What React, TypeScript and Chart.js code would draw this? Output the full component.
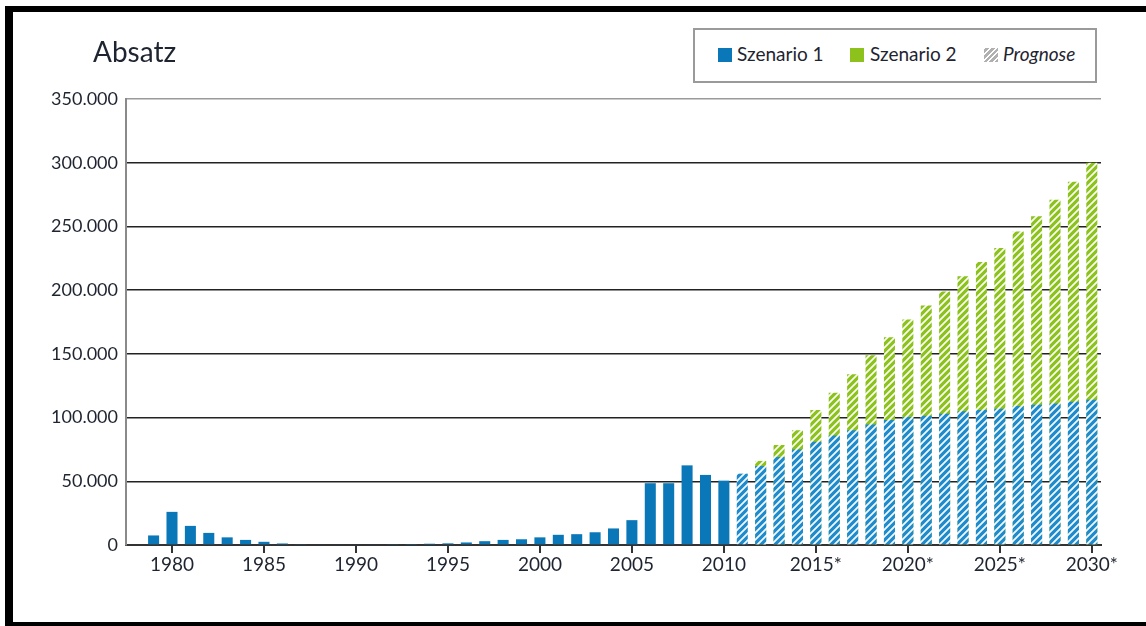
import React, { useEffect, useRef } from 'react';
import { Chart, registerables } from 'chart.js';

Chart.register(...registerables);

const years = [
  1978, 1979, 1980, 1981, 1982, 1983, 1984, 1985, 1986, 1987, 1988, 1989, 1990,
  1991, 1992, 1993, 1994, 1995, 1996, 1997, 1998, 1999, 2000, 2001, 2002, 2003,
  2004, 2005, 2006, 2007, 2008, 2009, 2010, 2011, 2012, 2013, 2014, 2015, 2016,
  2017, 2018, 2019, 2020, 2021, 2022, 2023, 2024, 2025, 2026, 2027, 2028, 2029, 2030,
];

// Szenario 1 (blue)
const szenario1 = [
  null, 7500, 26000, 15000, 9500, 6000, 4000, 2500, 1200, 700, 500, 500, 500,
  600, 700, 800, 1000, 1300, 2000, 3000, 4000, 4500, 6000, 8000, 8500, 10000,
  13000, 19500, 48500, 48500, 62500, 55000, 50500, 56000, 62000, 69000, 75000, 81000, 86000,
  90000, 94500, 98000, 100500, 101500, 103000, 105000, 106000, 107000, 109000, 110000, 111000, 112500, 114000,
];

// Szenario 2 (green, total height)
const szenario2 = [
  null, null, null, null, null, null, null, null, null, null, null, null, null,
  null, null, null, null, null, null, null, null, null, null, null, null, null,
  null, null, null, null, null, null, null, null, 66000, 78500, 90000, 106000, 119500,
  134000, 149000, 163000, 177000, 188000, 199000, 211000, 222000, 233000, 246000, 258000, 271000, 285000, 300000,
];

const prognoseFrom = 2011;
const starredFrom = 2015;
const yMax = 350000;
const yStep = 50000;

const BLUE = '#0a78b8';
const BLUE_HATCH = '#1e8bcc';
const GREEN = '#8cc21b';

function makeHatch(ctx: CanvasRenderingContext2D, color: string) {
  const s = 7;
  const c = document.createElement('canvas');
  c.width = s;
  c.height = s;
  const g = c.getContext('2d')!;
  g.fillStyle = color;
  g.fillRect(0, 0, s, s);
  g.strokeStyle = 'rgba(255,255,255,0.95)';
  g.lineWidth = 1.8;
  g.beginPath();
  g.moveTo(-1, s + 1);
  g.lineTo(s + 1, -1);
  g.moveTo(-1, 1);
  g.lineTo(1, -1);
  g.moveTo(s - 1, s + 1);
  g.lineTo(s + 1, s - 1);
  g.stroke();
  return ctx.createPattern(c, 'repeat');
}

function fmt(v: number) {
  return String(Math.round(v)).replace(/\B(?=(\d{3})+(?!\d))/g, '.');
}

export default function App() {
  const ref = useRef<HTMLCanvasElement | null>(null);

  useEffect(() => {
    const canvas = ref.current!;
    const ctx = canvas.getContext('2d')!;
    const blueHatch = makeHatch(ctx, BLUE_HATCH);
    const greenHatch = makeHatch(ctx, GREEN);

    const chart = new Chart(ctx, {
      type: 'bar',
      data: {
        labels: years.map(String),
        datasets: [
          {
            label: 'Szenario 1',
            data: szenario1 as any,
            backgroundColor: (c: any) => (years[c.dataIndex] >= prognoseFrom ? blueHatch : BLUE),
            borderWidth: 0,
            barPercentage: 0.6,
            categoryPercentage: 1,
          },
          {
            label: 'Szenario 2',
            data: szenario2 as any,
            backgroundColor: (c: any) => (years[c.dataIndex] >= prognoseFrom ? greenHatch : GREEN),
            borderWidth: 0,
            barPercentage: 0.6,
            categoryPercentage: 1,
          },
        ],
      },
      options: {
        animation: false,
        responsive: false,
        maintainAspectRatio: false,
        devicePixelRatio: 1,
        layout: { padding: { top: 99, right: 45, left: 0, bottom: 0 } },
        plugins: { legend: { display: false }, tooltip: { enabled: false } },
        scales: {
          x: {
            stacked: true,
            afterFit: (s: any) => {
              s.height = 81;
            },
            border: { display: true, color: '#333', width: 2 },
            grid: {
              display: true,
              drawOnChartArea: false,
              drawTicks: true,
              tickLength: 8,
              offset: false,
              lineWidth: 2,
              color: (c: any) => {
                const y = years[c.index];
                return y !== undefined && y % 5 === 0 ? '#333' : 'rgba(0,0,0,0)';
              },
            },
            ticks: {
              autoSkip: false,
              maxRotation: 0,
              minRotation: 0,
              padding: 0,
              color: '#1e2430',
              font: { family: "'Lato', sans-serif", size: 19 },
              callback: (_v: any, i: number) => {
                const y = years[i];
                if (y % 5 !== 0) return '';
                return y >= starredFrom ? y + '*' : String(y);
              },
            },
          },
          y: {
            stacked: false,
            min: 0,
            max: yMax,
            afterFit: (s: any) => {
              s.width = 126;
            },
            border: { display: true, color: '#8a8a8a', width: 2 },
            grid: {
              drawTicks: false,
              lineWidth: 1.4,
              color: (c: any) => (c.tick && c.tick.value === yMax ? '#9a9a9a' : '#222'),
            },
            ticks: {
              stepSize: yStep,
              padding: 8,
              color: '#1e2430',
              font: { family: "'Lato', sans-serif", size: 18 },
              callback: (v: any) => fmt(Number(v)),
            },
          },
        },
      },
    });
    return () => chart.destroy();
  }, []);

  const legendText: React.CSSProperties = {
    position: 'absolute',
    top: 12,
    fontFamily: "'Lato', sans-serif",
    fontSize: 19,
    lineHeight: '24px',
    color: '#1e2430',
    whiteSpace: 'nowrap',
  };
  const swatch: React.CSSProperties = { position: 'absolute', top: 18, width: 14, height: 14 };

  return (
    <div
      style={{
        position: 'fixed',
        left: 0,
        top: 0,
        width: 1146,
        height: 626,
        overflow: 'hidden',
        background: '#fff',
      }}
    >
      <div
        style={{
          position: 'absolute',
          left: 5,
          top: 6,
          width: 1200,
          height: 620,
          boxSizing: 'border-box',
          borderLeft: '8px solid #000',
          borderTop: '6px solid #000',
          borderBottom: '4px solid #000',
        }}
      />
      <canvas
        ref={ref}
        width={1146}
        height={626}
        style={{ position: 'absolute', left: 0, top: 0, width: 1146, height: 626 }}
      />
      <div
        style={{
          position: 'absolute',
          left: 93,
          top: 37,
          fontFamily: "'Lato', sans-serif",
          fontSize: 28,
          lineHeight: '28px',
          color: '#1e2430',
        }}
      >
        Absatz
      </div>
      <div
        style={{
          position: 'absolute',
          left: 693,
          top: 28,
          width: 404,
          height: 55,
          boxSizing: 'border-box',
          border: '2px solid #9a9a9a',
          background: '#fff',
        }}
      >
        <div style={{ ...swatch, left: 23, background: BLUE }} />
        <div style={{ ...legendText, left: 42 }}>Szenario 1</div>
        <div style={{ ...swatch, left: 155, background: GREEN }} />
        <div style={{ ...legendText, left: 175 }}>Szenario 2</div>
        <div
          style={{
            ...swatch,
            left: 289,
            background: 'repeating-linear-gradient(-45deg, #b0b0b0 0px, #b0b0b0 2.5px, #ffffff 2.5px, #ffffff 4px)',
          }}
        />
        <div style={{ ...legendText, left: 308, fontStyle: 'italic' }}>Prognose</div>
      </div>
    </div>
  );
}
